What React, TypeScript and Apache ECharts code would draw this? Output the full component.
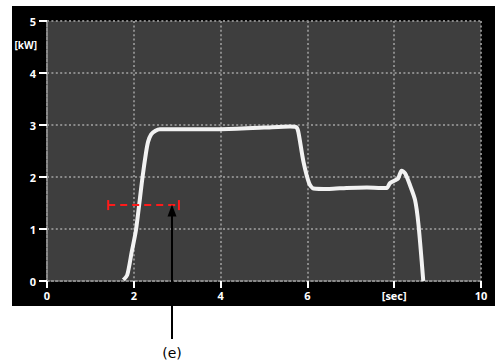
import React, { useEffect, useRef } from "react";
import * as echarts from "echarts";

const xTicks = [0, 2, 4, 6, 8, 10];
const xTickLabels = ["0", "2", "4", "6", "[sec]", "10"];
const yTicks = [0, 1, 2, 3, 4, 5];
const yUnit = "[kW]";
const annotationLabel = "(e)";

const powerCurve: [number, number][] = [
  [1.76, 0.02], [1.85, 0.12], [1.95, 0.55], [2.05, 0.98], [2.2, 1.99],
  [2.28, 2.46], [2.33, 2.68], [2.4, 2.82], [2.5, 2.89], [2.6, 2.92],
  [3.0, 2.92], [4.0, 2.92], [5.0, 2.95], [5.6, 2.97], [5.74, 2.96],
  [5.79, 2.87], [5.91, 2.29], [6.04, 1.88], [6.14, 1.78], [6.5, 1.77],
  [6.9, 1.79], [7.37, 1.8], [7.7, 1.79], [7.83, 1.79], [7.9, 1.88],
  [8.0, 1.93], [8.09, 1.97], [8.17, 2.12], [8.25, 2.07], [8.36, 1.85],
  [8.48, 1.56], [8.56, 1.08], [8.67, 0.0],
];

const rangeBar: [number, number][] = [[1.41, 1.46], [3.04, 1.46]];
const arrowX = 2.88;
const arrowTipY = 1.47;

export default function App() {
  const ref = useRef<HTMLDivElement>(null);
  useEffect(() => {
    if (!ref.current) return;
    const chart = echarts.init(ref.current, null, { renderer: "svg" });
    const font = "Open Sans";
    const dotted = { color: "#8a8a8a", width: 2, type: [2, 2.4] };
    chart.setOption({
      animation: false,
      backgroundColor: "transparent",
      grid: {
        left: 47, top: 21, width: 434, height: 260,
        show: true, backgroundColor: "#3e3e3e", borderWidth: 0,
      },
      xAxis: {
        type: "value", min: 0, max: 10, interval: 2,
        axisLine: { show: true, onZero: false, lineStyle: dotted },
        axisTick: { show: true, length: 7, lineStyle: { color: "#ffffff", width: 2, type: "solid" } },
        axisLabel: {
          color: "#ffffff", fontWeight: "bold", fontSize: 11, fontFamily: font, margin: 9,
          formatter: (v: number) => xTickLabels[xTicks.indexOf(v)] ?? String(v),
        },
        splitLine: { show: true, lineStyle: dotted },
      },
      yAxis: {
        type: "value", min: 0, max: 5, interval: 1,
        axisLine: { show: true, onZero: false, lineStyle: dotted },
        axisTick: { show: true, length: 8, lineStyle: { color: "#ffffff", width: 2, type: "solid" } },
        axisLabel: {
          color: "#ffffff", fontWeight: "bold", fontSize: 11, fontFamily: font, margin: 11,
          formatter: (v: number) => (yTicks.includes(v) ? String(v) : ""),
        },
        splitLine: { show: true, lineStyle: dotted },
      },
      series: [
        {
          type: "line", data: powerCurve, smooth: 0.25, showSymbol: false,
          lineStyle: { color: "#f2f2f2", width: 4 }, z: 3,
        },
        {
          type: "line", data: rangeBar, symbol: "rect", symbolSize: [2, 10], showSymbol: true,
          itemStyle: { color: "#ff1a1a" },
          lineStyle: { color: "#ff1a1a", width: 2, type: [7, 5] }, z: 4,
        },
      ],
    });
    const tip = chart.convertToPixel({ gridIndex: 0 }, [arrowX, arrowTipY]) as number[];
    const ax = Math.round(tip[0]);
    const ty = tip[1];
    chart.setOption({
      graphic: [
        {
          type: "text", x: 37, y: 45,
          style: { text: yUnit, fill: "#fff", fontWeight: "bold", fontSize: 10, fontFamily: font, align: "right", verticalAlign: "middle" },
        },
        { type: "line", z: 10, shape: { x1: ax, y1: ty + 10, x2: ax, y2: 339 }, style: { stroke: "#000", lineWidth: 2 } },
        {
          type: "polygon", z: 10,
          shape: { points: [[ax, ty], [ax - 4.5, ty + 12], [ax + 4.5, ty + 12]] },
          style: { fill: "#000" },
        },
        {
          type: "text", x: ax, y: 353,
          style: { text: annotationLabel, fill: "#000", fontSize: 14, fontFamily: "DejaVu Sans", align: "center", verticalAlign: "middle" },
        },
      ],
    });
    return () => chart.dispose();
  }, []);
  return (
    <div style={{ position: "absolute", left: 0, top: 0, width: 499, height: 364, background: "#fff" }}>
      <div style={{ position: "absolute", left: 12, top: 6, width: 483, height: 300, background: "#000" }} />
      <div ref={ref} style={{ position: "absolute", left: 0, top: 0, width: 499, height: 364 }} />
    </div>
  );
}
